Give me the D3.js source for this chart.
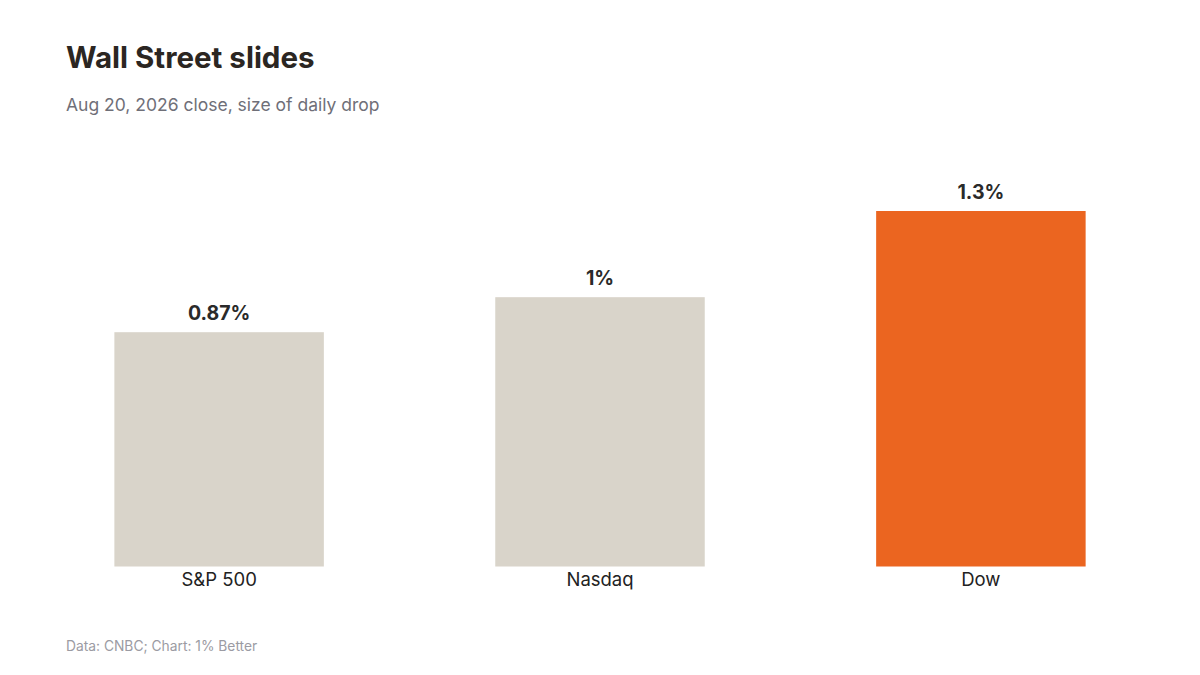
<!DOCTYPE html>
<html>
<head>
<meta charset="utf-8">
<script src="https://cdn.jsdelivr.net/npm/d3@7"></script>
<style>
  body { margin: 0; background: #fff; }
  svg text { font-family: Inter, "DejaVu Sans", sans-serif; }
</style>
</head>
<body>
<div id="viz"></div>
<script>
// data
var categories = ['S&P 500', 'Nasdaq', 'Dow'];
var drops = [0.87, 1.0, 1.32];
var dropLabels = ['0.87%', '1%', '1.3%'];
var highlight = 'Dow';

var width = 1200, height = 675;
var margin = { top: 211, bottom: 108, left: 66, right: 66 };

var svg = d3.select('#viz').append('svg')
    .attr('width', width)
    .attr('height', height);

svg.append('text')
    .attr('x', 66).attr('y', 68)
    .attr('font-size', 29.5).attr('font-weight', 700)
    .attr('fill', '#2b2622')
    .text('Wall Street slides');

svg.append('text')
    .attr('x', 66).attr('y', 111)
    .attr('font-size', 17.5)
    .attr('fill', '#6f6f78')
    .text('Aug 20, 2026 close, size of daily drop');

var x = d3.scaleBand()
    .domain(categories)
    .range([margin.left, width - margin.right])
    .paddingInner(0.45)
    .paddingOuter(0.127);

var y = d3.scaleLinear()
    .domain([0, d3.max(drops)])
    .range([height - margin.bottom - 0.5, margin.top]);

var g = svg.append('g');

g.selectAll('rect')
    .data(drops)
    .enter().append('rect')
    .attr('x', function(d, i) { return x(categories[i]); })
    .attr('width', x.bandwidth())
    .attr('y', function(d) { return y(d); })
    .attr('height', function(d) { return y(0) - y(d); })
    .attr('fill', function(d, i) { return categories[i] === highlight ? '#eb6520' : '#d9d4ca'; });

g.selectAll('.val')
    .data(drops)
    .enter().append('text')
    .attr('class', 'val')
    .attr('x', function(d, i) { return x(categories[i]) + x.bandwidth() / 2; })
    .attr('y', function(d) { return y(d) - 12; })
    .attr('text-anchor', 'middle')
    .attr('font-size', 19.5).attr('font-weight', 700)
    .attr('fill', '#2a2a2a')
    .text(function(d, i) { return dropLabels[i]; });

var axis = svg.append('g')
    .attr('transform', 'translate(0,' + y(0) + ')')
    .call(d3.axisBottom(x).tickSize(0).tickPadding(6));
axis.select('.domain').remove();
axis.selectAll('text')
    .attr('font-size', 18.5)
    .attr('fill', '#222')
    .attr('dy', '0.71em');

svg.append('text')
    .attr('x', 66).attr('y', 651)
    .attr('font-size', 13.8)
    .attr('fill', '#9b9ba3')
    .text('Data: CNBC; Chart: 1% Better');
</script>
</body>
</html>
